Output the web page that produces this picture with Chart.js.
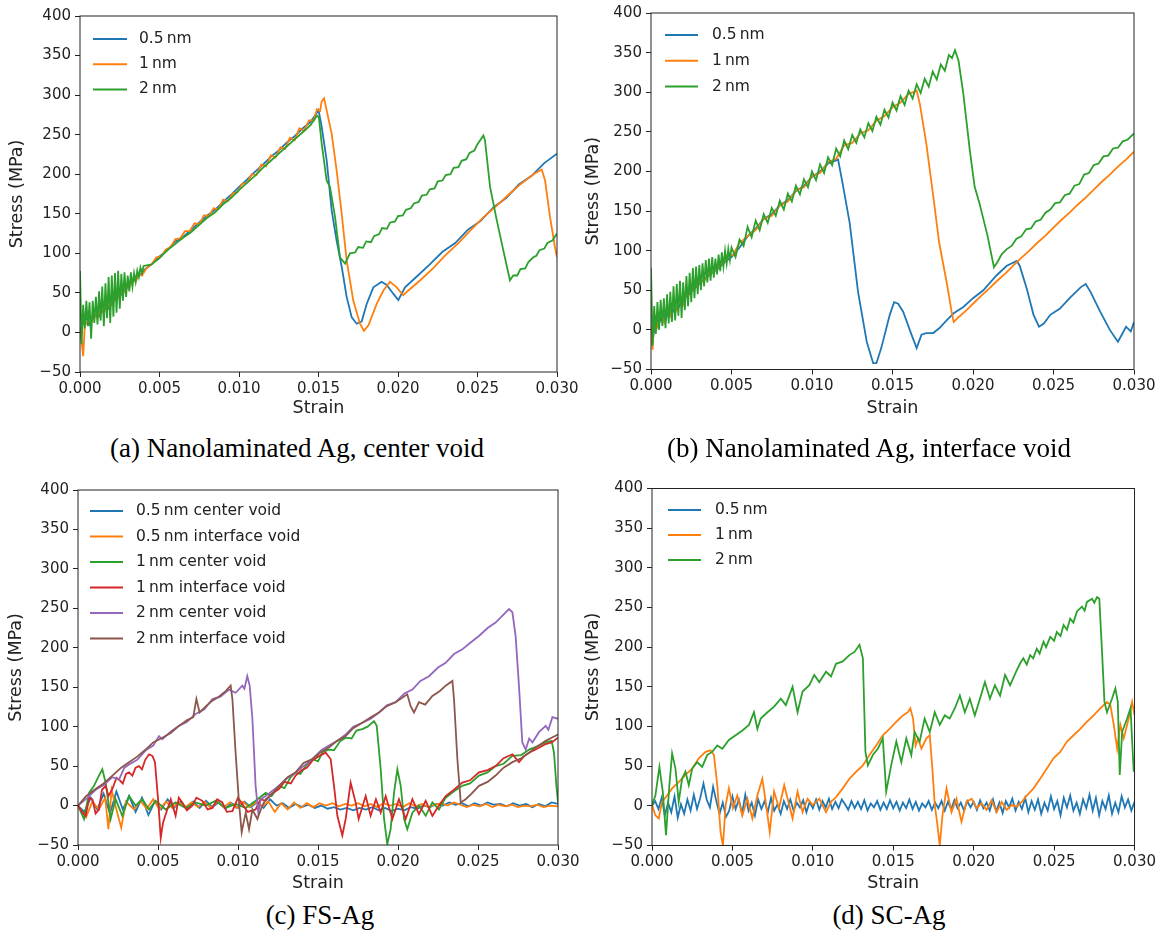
<!DOCTYPE html>
<html>
<head>
<meta charset="utf-8">
<script src="https://cdn.jsdelivr.net/npm/chart.js@4.4.1/dist/chart.umd.min.js"></script>
<style>
  body { margin: 0; background: #fff; width: 1159px; height: 932px; position: relative; overflow: hidden; }
  canvas { position: absolute; }
  .cap { position: absolute; font-family: "Liberation Serif", "Times New Roman", serif; font-size: 27px; color: #000;
         transform: translate(-50%, -50%); white-space: nowrap; }
</style>
</head>
<body>
<canvas id="pa" width="600" height="419" style="left:0;top:0"></canvas>
<canvas id="pb" width="579" height="419" style="left:580px;top:0"></canvas>
<canvas id="pc" width="600" height="424" style="left:0;top:470px"></canvas>
<canvas id="pd" width="579" height="424" style="left:580px;top:470px"></canvas>
<div class="cap" style="left:297px;top:448px">(a) Nanolaminated Ag, center void</div>
<div class="cap" style="left:869px;top:448px">(b) Nanolaminated Ag, interface void</div>
<div class="cap" style="left:320px;top:915px">(c) FS-Ag</div>
<div class="cap" style="left:889px;top:915px">(d) SC-Ag</div>
<script>
// series labels
const thinLabels = ['0.5\u2009nm', '1\u2009nm', '2\u2009nm'];
const fsLabels = ['0.5\u2009nm center void', '0.5\u2009nm interface void', '1\u2009nm center void',
  '1\u2009nm interface void', '2\u2009nm center void', '2\u2009nm interface void'];
const colors = ['#1f77b4', '#ff7f0e', '#2ca02c', '#d62728', '#9467bd', '#8c564b'];

// axis ticks
const strainTicks = [0, 0.005, 0.01, 0.015, 0.02, 0.025, 0.03];
const stressTicks = [-50, 0, 50, 100, 150, 200, 250, 300, 350, 400];

// (a) nanolaminated, center void  [strain, stress MPa]
const aBlue = [[0,0],[0.0002,12],[0.0004,18],[0.0006,10],[0.0008,20],[0.001,22],[0.0012,20],[0.0014,27],[0.0016,30],[0.0018,30],[0.002,38],[0.0023,44],[0.0026,48],[0.0029,55],[0.0032,62],[0.0035,68],[0.0038,73],[0.0041,80],[0.0045,86],[0.005,96],[0.0055,104],[0.006,115],[0.0065,121],[0.007,130],[0.0075,139],[0.008,148],[0.0085,155],[0.009,165],[0.0095,174],[0.01,184],[0.0105,193],[0.011,203],[0.0115,212],[0.012,222],[0.0125,230],[0.013,240],[0.0135,248],[0.014,258],[0.0145,266],[0.0148,275],[0.015,281],[0.0152,260],[0.01551,218],[0.01583,154],[0.01614,116],[0.01646,83],[0.01677,45],[0.01709,19],[0.0174,11],[0.01772,14],[0.01803,36],[0.01845,57],[0.01897,64],[0.01929,60],[0.0197,49],[0.02002,41],[0.02044,57],[0.0212,71],[0.022,86],[0.0228,102],[0.0236,113],[0.0244,130],[0.0252,141],[0.026,158],[0.0268,170],[0.0276,187],[0.0284,198],[0.0292,214],[0.03,226]];
const aOrange = [[0,5],[0.0001,-12],[0.0002,-30],[0.0003,8],[0.0005,15],[0.0007,12],[0.0009,22],[0.0011,18],[0.0013,28],[0.0015,25],[0.0017,35],[0.0019,32],[0.0021,42],[0.0023,40],[0.0025,50],[0.0027,48],[0.0029,58],[0.0031,57],[0.0033,66],[0.0035,64],[0.0037,74],[0.0039,72],[0.0042,82],[0.0045,86],[0.0048,95],[0.0051,96],[0.0054,105],[0.0057,108],[0.006,118],[0.0063,119],[0.0066,128],[0.0069,128],[0.0072,138],[0.0075,137],[0.0078,148],[0.0081,147],[0.0084,157],[0.0087,156],[0.009,168],[0.0093,166],[0.0096,176],[0.0099,177],[0.0102,188],[0.0105,189],[0.0108,200],[0.0111,199],[0.0114,212],[0.0117,210],[0.012,224],[0.0123,221],[0.0126,234],[0.0129,232],[0.0132,246],[0.0135,243],[0.0138,258],[0.0141,255],[0.0144,268],[0.0147,268],[0.0149,282],[0.0151,280],[0.0152,292],[0.01535,296],[0.01551,281],[0.01583,251],[0.01614,205],[0.01646,150],[0.01677,91],[0.01719,40],[0.01761,11],[0.01786,2],[0.01814,9],[0.01866,36],[0.01908,53],[0.0195,64],[0.01992,57],[0.02033,47],[0.02065,53],[0.0214,66],[0.0222,81],[0.023,98],[0.0238,113],[0.0246,130],[0.0254,146],[0.0262,160],[0.027,175],[0.0278,189],[0.0286,201],[0.02904,206],[0.02925,192],[0.02956,146],[0.02987,108],[0.03,95]];
const aGreen = [[0,78],[0.0001,-15],[0.0002,35],[0.0003,5],[0.0004,40],[0.0005,8],[0.0006,38],[0.0007,-8],[0.0008,40],[0.0009,12],[0.001,45],[0.0011,10],[0.0012,52],[0.0013,15],[0.0014,58],[0.0015,8],[0.0016,62],[0.0017,18],[0.0018,70],[0.0019,12],[0.002,72],[0.0021,20],[0.0022,75],[0.0023,25],[0.0024,78],[0.0025,30],[0.0026,74],[0.0027,40],[0.0028,76],[0.0029,45],[0.003,72],[0.0031,52],[0.0032,76],[0.0033,58],[0.0034,75],[0.0035,64],[0.0036,78],[0.0037,70],[0.0038,82],[0.0039,75],[0.004,84],[0.0045,86],[0.005,94],[0.0055,104],[0.006,112],[0.0065,120],[0.007,127],[0.0075,136],[0.008,145],[0.0085,152],[0.009,162],[0.0095,170],[0.01,180],[0.0105,189],[0.011,198],[0.0115,208],[0.012,217],[0.0125,226],[0.013,235],[0.0135,244],[0.014,253],[0.0145,262],[0.0149,274],[0.01502,272],[0.0152,239],[0.01551,192],[0.01572,184],[0.01604,146],[0.01635,95],[0.01667,87],[0.01698,100],[0.0173,101],[0.0175,108],[0.0178,107],[0.018,115],[0.0183,114],[0.0185,122],[0.0188,124],[0.019,132],[0.0193,131],[0.0195,139],[0.0198,140],[0.02,147],[0.0203,148],[0.0205,155],[0.0208,157],[0.021,163],[0.0213,165],[0.0215,173],[0.0218,174],[0.022,181],[0.0223,182],[0.0225,191],[0.0228,192],[0.023,199],[0.0233,200],[0.0235,208],[0.0238,209],[0.024,217],[0.0243,219],[0.0245,227],[0.0248,230],[0.025,238],[0.02537,249],[0.02547,243],[0.02579,184],[0.02621,142],[0.02662,104],[0.02704,66],[0.02725,72],[0.0275,72],[0.0277,80],[0.028,81],[0.0282,89],[0.02851,95],[0.0287,97],[0.0289,104],[0.0292,106],[0.0294,113],[0.0297,116],[0.03,125]];

// (b) nanolaminated, interface void
const bBlue = [[0,0],[0.0001,-15],[0.0003,15],[0.0005,8],[0.0007,20],[0.0009,12],[0.0011,25],[0.0013,20],[0.0015,30],[0.0017,28],[0.002,38],[0.0023,45],[0.0026,50],[0.003,58],[0.0034,65],[0.0038,72],[0.0042,78],[0.0046,86],[0.005,92],[0.0055,104],[0.006,118],[0.0065,128],[0.007,140],[0.0075,146],[0.008,157],[0.0085,164],[0.009,175],[0.0095,182],[0.01,193],[0.0105,200],[0.011,210],[0.01162,215],[0.0119,185],[0.01234,135],[0.01286,48],[0.0134,-15],[0.0138,-42],[0.014,-42],[0.0143,-23],[0.01483,19],[0.0151,35],[0.01535,33],[0.01566,23],[0.01618,-6],[0.0165,-23],[0.0168,-6],[0.0171,-4],[0.01753,-4],[0.0179,2],[0.01836,12],[0.0188,21],[0.0194,29],[0.02,40],[0.02064,50],[0.02147,69],[0.0221,81],[0.02272,87],[0.0229,81],[0.02334,52],[0.02376,19],[0.0241,4],[0.0244,8],[0.0248,19],[0.0254,27],[0.026,40],[0.0267,54],[0.027,58],[0.0273,48],[0.0279,23],[0.0285,0],[0.029,-15],[0.0293,-4],[0.0295,4],[0.0298,-2],[0.03,10]];
const bOrange = [[0,5],[0.0001,-25],[0.0002,20],[0.0004,5],[0.0006,25],[0.0008,10],[0.001,30],[0.0012,18],[0.0014,35],[0.0016,25],[0.0018,40],[0.002,32],[0.0022,45],[0.0024,45],[0.0026,52],[0.0028,55],[0.003,60],[0.0033,62],[0.0036,70],[0.0039,74],[0.0042,80],[0.0045,85],[0.0048,92],[0.0051,95],[0.0055,110],[0.006,118],[0.0065,126],[0.007,140],[0.0075,144],[0.008,157],[0.0085,162],[0.009,176],[0.0095,180],[0.01,194],[0.0105,198],[0.011,212],[0.0115,216],[0.012,233],[0.0125,236],[0.013,248],[0.0135,252],[0.014,264],[0.0145,270],[0.015,281],[0.0155,287],[0.016,298],[0.0163,300],[0.0165,302],[0.0167,285],[0.0171,235],[0.01753,169],[0.0179,110],[0.0184,56],[0.01867,23],[0.0188,10],[0.0191,16],[0.0196,25],[0.02,33],[0.0205,43],[0.021,52],[0.0215,62],[0.022,71],[0.0225,81],[0.023,91],[0.0235,100],[0.024,110],[0.0245,119],[0.025,129],[0.0255,139],[0.026,148],[0.0265,158],[0.027,167],[0.0275,177],[0.028,187],[0.0285,196],[0.029,206],[0.0295,215],[0.03,225]];
const bGreen = [[0,78],[0.0001,-20],[0.0002,30],[0.0003,-5],[0.0004,35],[0.0005,0],[0.0006,38],[0.0007,5],[0.0008,40],[0.0009,2],[0.001,45],[0.0011,8],[0.0012,48],[0.0013,10],[0.0014,55],[0.0015,12],[0.0016,58],[0.0017,18],[0.0018,62],[0.0019,15],[0.002,60],[0.0021,25],[0.0022,68],[0.0023,30],[0.0024,72],[0.0025,35],[0.0026,78],[0.0027,40],[0.0028,80],[0.0029,45],[0.003,82],[0.0031,50],[0.0032,84],[0.0033,55],[0.0034,88],[0.0035,60],[0.0036,90],[0.0037,62],[0.0038,92],[0.0039,66],[0.004,90],[0.0041,70],[0.0042,95],[0.0043,74],[0.0044,98],[0.0045,80],[0.0046,100],[0.0047,84],[0.0048,102],[0.0049,88],[0.005,104],[0.00525,92],[0.0055,114],[0.00575,106],[0.006,130],[0.00625,117],[0.0065,138],[0.00675,126],[0.007,146],[0.00725,135],[0.0075,154],[0.00775,144],[0.008,163],[0.00825,152],[0.0085,172],[0.00875,162],[0.009,182],[0.00925,171],[0.0095,190],[0.00975,180],[0.01,200],[0.01025,189],[0.0105,209],[0.01075,198],[0.011,218],[0.01125,208],[0.0115,229],[0.01175,219],[0.012,239],[0.01225,228],[0.0125,246],[0.01275,236],[0.013,253],[0.01325,243],[0.0135,261],[0.01375,251],[0.014,269],[0.01425,259],[0.0145,278],[0.01475,268],[0.015,287],[0.01525,277],[0.0155,295],[0.01575,284],[0.016,302],[0.01625,292],[0.0165,310],[0.01675,299],[0.017,317],[0.01725,307],[0.0175,326],[0.01775,316],[0.018,335],[0.01825,327],[0.0185,347],[0.0187,343],[0.01888,353],[0.0191,340],[0.0194,298],[0.0198,227],[0.0201,181],[0.0204,160],[0.0209,119],[0.0213,79],[0.0215,85],[0.0218,96],[0.0221,102],[0.0224,106],[0.0227,115],[0.023,118],[0.0233,127],[0.0236,128],[0.0239,137],[0.0242,139],[0.0245,148],[0.0248,152],[0.0251,160],[0.0254,161],[0.0257,170],[0.026,172],[0.0263,182],[0.0266,184],[0.0269,196],[0.0272,198],[0.0275,208],[0.0278,210],[0.0281,219],[0.0284,220],[0.0287,229],[0.029,230],[0.0293,238],[0.0296,240],[0.03,248]];

// (c) FS-Ag
const cBlue = [[0,0],[0.0004,-8],[0.0008,10],[0.0012,-5],[0.0016,15],[0.002,-10],[0.0024,18],[0.0028,-5],[0.0032,12],[0.0036,-8],[0.004,10],[0.0044,-12],[0.0048,5],[0.0052,-5],[0.0056,8],[0.006,-3],[0.0064,5],[0.0068,-4],[0.0072,5],[0.0076,-3],[0.008,6],[0.0084,-2],[0.0088,4],[0.0092,-4],[0.0096,3],[0.01,-3],[0.0104,5],[0.0108,-2],[0.0112,4],[0.0116,-3],[0.012,8],[0.0124,0],[0.0128,3],[0.0132,-3],[0.0136,2],[0.014,-2],[0.0144,1],[0.0148,-3],[0.0152,0],[0.0156,-4],[0.016,-2],[0.0164,-5],[0.0168,-3],[0.0172,-6],[0.0176,-3],[0.018,-5],[0.0184,-2],[0.0188,-6],[0.0192,-3],[0.0196,-7],[0.02,-4],[0.0204,-6],[0.0208,-2],[0.0212,-4],[0.0216,0],[0.022,-2],[0.0224,2],[0.0228,0],[0.0232,4],[0.0236,1],[0.024,3],[0.0244,-1],[0.0248,3],[0.0252,0],[0.0256,4],[0.026,1],[0.0264,2],[0.0268,-1],[0.0272,3],[0.0276,0],[0.028,2],[0.0284,-2],[0.0288,2],[0.0292,-1],[0.0296,4],[0.03,2]];
const cOrange = [[0,0],[0.0005,-15],[0.0009,5],[0.0013,-5],[0.0017,10],[0.0019,-30],[0.0021,20],[0.0024,-5],[0.0027,-28],[0.003,5],[0.0035,-5],[0.0039,6],[0.0043,-4],[0.0047,8],[0.0051,-5],[0.0055,5],[0.0059,-3],[0.0063,4],[0.0067,-2],[0.0071,4],[0.0075,-2],[0.0079,5],[0.0083,-3],[0.0087,5],[0.0091,-2],[0.0095,4],[0.0099,-3],[0.0103,5],[0.0107,-2],[0.0111,4],[0.0115,-1],[0.0119,5],[0.0123,-8],[0.0127,3],[0.0131,-5],[0.0135,4],[0.0139,-3],[0.0143,3],[0.0147,-2],[0.0151,3],[0.0155,0],[0.0159,3],[0.0163,-1],[0.0167,2],[0.0171,0],[0.0175,3],[0.0179,-1],[0.0183,2],[0.0187,-2],[0.0191,3],[0.0195,0],[0.0199,2],[0.0203,-2],[0.0207,3],[0.0211,-1],[0.0215,2],[0.0219,-2],[0.0223,1],[0.0227,3],[0.0231,0],[0.0235,4],[0.0239,1],[0.0243,-2],[0.0247,1],[0.0251,-1],[0.0255,2],[0.0259,-2],[0.0263,1],[0.0267,-1],[0.0271,1],[0.0275,-2],[0.0279,0],[0.0283,-1],[0.0287,1],[0.0291,-2],[0.0295,0],[0.03,-1]];
const cGreen = [[0,0],[0.000375,-17],[0.00069,16],[0.001,25],[0.00131,38],[0.00152,46],[0.00173,29],[0.00204,-17],[0.00235,8],[0.00277,-13],[0.00319,12],[0.0036,0],[0.00402,8],[0.00444,-5],[0.00485,6],[0.00548,-5],[0.0061,4],[0.00673,-3],[0.00735,4],[0.00798,0],[0.0086,6],[0.00923,-3],[0.00985,2],[0.01048,-3],[0.0111,6],[0.01173,16],[0.0121,12],[0.01256,25],[0.0129,22],[0.0133,36],[0.0136,42],[0.0139,40],[0.0143,52],[0.01465,59],[0.015,56],[0.0153,68],[0.01569,71],[0.016,70],[0.0164,82],[0.01673,86],[0.0171,85],[0.0174,95],[0.01777,97],[0.0181,100],[0.0185,107],[0.01867,101],[0.01892,46],[0.01913,-17],[0.01933,-49],[0.01954,-30],[0.01975,16],[0.01996,46],[0.02017,25],[0.02038,-17],[0.02058,-30],[0.0209,-9],[0.02131,0],[0.02173,-13],[0.02215,4],[0.02256,-5],[0.02298,10],[0.0235,18],[0.02402,25],[0.0245,28],[0.02506,38],[0.0256,42],[0.0261,50],[0.0266,53],[0.02715,63],[0.0277,64],[0.02819,71],[0.0287,75],[0.02923,80],[0.0296,82],[0.02975,67],[0.0299,25],[0.03,4]];
const cRed = [[0,0],[0.00025,-8],[0.00048,-13],[0.0007,10],[0.0009,8],[0.0011,-10],[0.00131,-5],[0.0015,20],[0.00173,25],[0.0019,12],[0.00215,21],[0.0024,35],[0.00256,33],[0.0028,28],[0.003,40],[0.00319,42],[0.0034,38],[0.0036,48],[0.00381,50],[0.004,46],[0.0042,58],[0.00444,65],[0.00465,63],[0.00481,55],[0.00502,4],[0.00517,-41],[0.00531,-22],[0.00558,-5],[0.0058,8],[0.0061,-13],[0.0063,10],[0.00652,4],[0.0068,-6],[0.00715,0],[0.0074,10],[0.00777,6],[0.0081,-5],[0.0084,-3],[0.0087,8],[0.00902,4],[0.0093,-8],[0.00965,-7],[0.01,10],[0.01027,2],[0.0106,-8],[0.0111,-5],[0.0114,8],[0.01173,6],[0.0121,15],[0.01256,21],[0.0129,30],[0.0133,28],[0.0136,38],[0.014,45],[0.0143,48],[0.01465,57],[0.015,62],[0.01548,67],[0.01579,59],[0.016,25],[0.01621,-13],[0.01652,-38],[0.01673,-17],[0.01704,29],[0.01735,4],[0.01754,-17],[0.01798,12],[0.01829,-13],[0.01862,8],[0.01892,-9],[0.01923,12],[0.01965,-17],[0.02006,8],[0.02048,-17],[0.0209,8],[0.02131,-11],[0.02173,6],[0.02215,-13],[0.02256,0],[0.02298,12],[0.0235,20],[0.02402,29],[0.0245,32],[0.02506,42],[0.0256,45],[0.0261,50],[0.0266,60],[0.02715,65],[0.02756,55],[0.0279,63],[0.02819,67],[0.0287,72],[0.02923,78],[0.0296,80],[0.03,86]];
const cPurple = [[0,0],[0.0006,10],[0.0011,20],[0.0016,26],[0.00215,36],[0.00256,33],[0.0029,48],[0.00319,52],[0.0037,58],[0.00423,70],[0.0047,76],[0.00506,88],[0.00527,84],[0.0058,94],[0.00631,101],[0.0068,106],[0.00735,116],[0.0079,122],[0.0084,135],[0.0089,138],[0.00944,147],[0.00985,143],[0.01027,152],[0.0104,148],[0.01058,164],[0.01073,152],[0.0109,110],[0.0111,25],[0.01127,-9],[0.01142,8],[0.01173,12],[0.0121,18],[0.01256,25],[0.0131,35],[0.0136,42],[0.0141,50],[0.01465,59],[0.0152,70],[0.01569,76],[0.0162,82],[0.01673,90],[0.0172,100],[0.01777,105],[0.0183,110],[0.01881,118],[0.0193,127],[0.01985,131],[0.0204,142],[0.0209,147],[0.0214,158],[0.02194,164],[0.0225,175],[0.02298,181],[0.0235,192],[0.02402,198],[0.0245,206],[0.02506,215],[0.0256,225],[0.0261,232],[0.0265,240],[0.02694,249],[0.02715,245],[0.02735,215],[0.02756,152],[0.02777,80],[0.02798,71],[0.0282,85],[0.0284,80],[0.02881,93],[0.02923,101],[0.0294,96],[0.02965,112],[0.03,110]];
const cBrown = [[0,0],[0.0005,12],[0.0011,21],[0.0016,28],[0.00215,38],[0.0027,48],[0.00319,55],[0.0037,62],[0.00423,71],[0.0047,80],[0.00527,86],[0.0058,92],[0.00631,101],[0.0068,108],[0.0072,112],[0.0074,135],[0.0076,118],[0.008,126],[0.0084,133],[0.0088,138],[0.00923,145],[0.00954,152],[0.00965,135],[0.00985,67],[0.01006,4],[0.01023,-34],[0.01048,-9],[0.01069,-30],[0.0109,-5],[0.01121,-17],[0.01152,0],[0.01173,8],[0.0121,14],[0.01256,25],[0.0131,36],[0.0136,42],[0.0141,54],[0.01465,59],[0.0152,68],[0.01569,74],[0.0162,82],[0.01673,88],[0.0172,98],[0.01777,105],[0.0183,112],[0.01881,118],[0.0193,126],[0.01985,131],[0.02058,141],[0.02079,126],[0.021,118],[0.02131,131],[0.0217,128],[0.02215,139],[0.0226,145],[0.02298,152],[0.0234,158],[0.0235,135],[0.02371,59],[0.02392,4],[0.02423,8],[0.0246,15],[0.02506,25],[0.0256,30],[0.0261,38],[0.0266,48],[0.02715,55],[0.0277,60],[0.02819,67],[0.0287,75],[0.02923,82],[0.0296,86],[0.03,90]];

// (d) SC-Ag
const dBlue = [[0,0],[0.0002,6],[0.0004,-4],[0.0006,10],[0.0008,-12],[0.001,4],[0.0012,-8],[0.0014,12],[0.0016,-15],[0.0018,2],[0.002,-10],[0.0022,8],[0.0024,-6],[0.0026,14],[0.0028,-4],[0.003,10],[0.0032,28],[0.0034,8],[0.0036,-2],[0.0038,24],[0.004,6],[0.0042,-10],[0.0044,4],[0.0046,-14],[0.0048,-6],[0.005,12],[0.0052,-4],[0.0054,8],[0.0056,-10],[0.0058,14],[0.006,-6],[0.0062,4],[0.0064,-12],[0.0066,8],[0.0068,-4],[0.007,6],[0.0072,-8],[0.0074,10],[0.0076,-6],[0.0078,2],[0.008,-10],[0.0082,6],[0.0084,-4],[0.0086,8],[0.0088,-6],[0.009,4],[0.0092,-2],[0.0094,7],[0.0096,-8],[0.0098,5],[0.01,-3],[0.0102,8],[0.0104,-5],[0.0106,6],[0.0108,-2],[0.011,9],[0.0112,-4],[0.0114,5],[0.0116,-3],[0.0118,8],[0.012,2],[0.0122,-5],[0.0124,6],[0.0126,-3],[0.0128,5],[0.013,-4],[0.0132,7],[0.0134,-6],[0.0136,3],[0.0138,-2],[0.014,6],[0.0142,-5],[0.0144,4],[0.0146,-4],[0.0148,7],[0.015,-3],[0.0152,5],[0.0154,-6],[0.0156,4],[0.0158,-3],[0.016,8],[0.0162,-4],[0.0164,5],[0.0166,-6],[0.0168,3],[0.017,-2],[0.0172,6],[0.0174,-5],[0.0176,4],[0.0178,-3],[0.018,6],[0.0182,-6],[0.0184,5],[0.0186,-4],[0.0188,7],[0.019,-3],[0.0192,4],[0.0194,-6],[0.0196,6],[0.0198,-2],[0.02,5],[0.0202,-5],[0.0204,7],[0.0206,-3],[0.0208,4],[0.021,-6],[0.0212,8],[0.0214,-7],[0.0216,4],[0.0218,-9],[0.022,6],[0.0222,-2],[0.0224,9],[0.0226,-6],[0.0228,5],[0.023,-4],[0.0232,10],[0.0234,-8],[0.0236,6],[0.0238,-5],[0.024,8],[0.0242,-10],[0.0244,4],[0.0246,-6],[0.0248,12],[0.025,-4],[0.0252,6],[0.0254,-12],[0.0256,10],[0.0258,-2],[0.026,13],[0.0262,-6],[0.0264,4],[0.0266,-10],[0.0268,8],[0.027,-3],[0.0272,14],[0.0274,-6],[0.0276,10],[0.0278,-12],[0.028,6],[0.0282,-4],[0.0284,13],[0.0286,-10],[0.0288,4],[0.029,-8],[0.0292,12],[0.0294,-2],[0.0296,8],[0.0298,-6],[0.03,5]];
const dOrange = [[0,1],[0.00021,-12],[0.00042,-16],[0.00062,5],[0.00094,13],[0.00125,22],[0.00166,30],[0.00208,39],[0.0025,47],[0.00291,60],[0.00333,68],[0.00364,70],[0.00385,64],[0.00406,26],[0.00426,-33],[0.00441,-50],[0.00458,1],[0.00478,22],[0.00503,-3],[0.0053,13],[0.00562,-12],[0.00593,9],[0.00624,-16],[0.00655,13],[0.00686,34],[0.00707,5],[0.00732,-33],[0.00759,18],[0.0079,-3],[0.00822,26],[0.00853,1],[0.00874,-16],[0.00905,18],[0.00936,-8],[0.00967,9],[0.00999,1],[0.0104,9],[0.01082,-8],[0.01113,5],[0.01144,11],[0.01186,22],[0.01227,34],[0.01269,43],[0.01311,51],[0.01352,64],[0.01394,76],[0.01435,89],[0.01477,97],[0.01519,106],[0.0156,114],[0.01591,118],[0.01606,123],[0.01623,110],[0.01639,76],[0.01654,85],[0.01675,72],[0.01706,85],[0.01727,89],[0.01743,47],[0.01758,1],[0.01772,-20],[0.01789,-50],[0.01806,-12],[0.01831,22],[0.01862,-8],[0.01893,9],[0.01924,-20],[0.01955,5],[0.01987,9],[0.02018,-3],[0.02049,3],[0.0208,-5],[0.02111,7],[0.02143,-8],[0.02174,5],[0.02205,-5],[0.02236,1],[0.02268,-1],[0.02299,5],[0.0233,13],[0.02372,22],[0.02413,34],[0.02455,47],[0.02496,60],[0.02538,68],[0.0258,81],[0.02621,89],[0.02663,97],[0.02704,106],[0.02746,114],[0.02788,123],[0.02829,131],[0.0285,127],[0.02871,102],[0.02892,72],[0.02912,102],[0.02933,85],[0.02964,110],[0.02985,131],[0.03,114]];
const dGreen = [[0,1],[0.00021,13],[0.00046,49],[0.00067,18],[0.00087,-37],[0.00108,26],[0.00125,66],[0.00146,47],[0.00166,5],[0.00187,34],[0.00208,43],[0.00229,26],[0.0025,47],[0.00281,55],[0.00312,49],[0.00343,64],[0.00374,68],[0.00406,76],[0.00437,72],[0.00478,83],[0.0052,89],[0.00562,95],[0.00603,102],[0.00634,118],[0.00655,97],[0.00676,110],[0.00718,118],[0.00759,125],[0.00801,135],[0.00832,127],[0.00874,150],[0.00905,118],[0.00936,144],[0.00978,152],[0.01009,165],[0.0104,156],[0.01082,169],[0.01113,163],[0.01144,179],[0.01186,182],[0.01227,190],[0.01259,194],[0.0129,203],[0.01311,186],[0.01327,68],[0.01342,51],[0.01373,64],[0.01404,72],[0.01435,85],[0.01456,18],[0.01487,51],[0.01519,81],[0.0155,55],[0.01581,85],[0.01612,64],[0.01633,93],[0.01664,81],[0.01695,110],[0.01727,93],[0.01758,118],[0.01789,102],[0.0182,114],[0.01851,110],[0.01883,123],[0.01914,139],[0.01945,118],[0.01976,135],[0.02007,114],[0.02039,135],[0.0207,156],[0.02101,135],[0.02132,152],[0.02164,139],[0.02195,165],[0.02226,152],[0.02268,171],[0.0229,180],[0.02309,186],[0.0233,178],[0.02351,190],[0.0237,186],[0.02392,198],[0.0241,192],[0.02434,207],[0.0245,200],[0.02476,213],[0.025,208],[0.02517,219],[0.0254,214],[0.02559,228],[0.0258,222],[0.026,236],[0.0262,231],[0.02642,245],[0.02673,251],[0.0269,246],[0.02704,257],[0.02736,261],[0.0275,256],[0.02767,263],[0.02781,261],[0.02798,194],[0.02813,131],[0.02829,118],[0.0286,135],[0.02881,148],[0.02896,131],[0.02908,39],[0.02923,93],[0.02954,110],[0.02975,123],[0.02995,43],[0.03,50]];

Chart.defaults.font.family = '"DejaVu Sans", sans-serif';
Chart.defaults.color = '#222';

const ink = '#222';

// full box round the plot area, like matplotlib spines
const frame = {
  id: 'frame',
  afterDraw(chart) {
    const { ctx, chartArea: a } = chart;
    ctx.save();
    ctx.strokeStyle = ink;
    ctx.lineWidth = 1;
    ctx.strokeRect(a.left, a.top, a.right - a.left, a.bottom - a.top);
    ctx.restore();
  },
};

// legend drawn inside the axes, top left, no box
const innerLegend = {
  id: 'innerLegend',
  afterDatasetsDraw(chart, args, opts) {
    const { ctx, chartArea: a } = chart;
    ctx.save();
    ctx.font = '15.5px "DejaVu Sans"';
    ctx.textBaseline = 'middle';
    ctx.lineWidth = 2;
    chart.data.datasets.forEach((ds, i) => {
      const y = a.top + opts.top + i * opts.gap;
      ctx.strokeStyle = ds.borderColor;
      ctx.beginPath();
      ctx.moveTo(a.left + opts.x0, y);
      ctx.lineTo(a.left + opts.x1, y);
      ctx.stroke();
      ctx.fillStyle = ink;
      ctx.fillText(ds.label, a.left + opts.tx, y);
    });
    ctx.restore();
  },
};

function makePanel(id, labels, series, box, legend) {
  const n = series.length;
  const datasets = series.map((s, i) => ({
    label: labels[i],
    data: s.map(([x, y]) => ({ x, y })),
    borderColor: colors[i],
    borderWidth: 1.8,
    pointRadius: 0,
    tension: 0,
    fill: false,
    order: n - 1 - i,
  }));

  return new Chart(document.getElementById(id), {
    type: 'line',
    data: { datasets },
    plugins: [frame, innerLegend],
    options: {
      responsive: false,
      animation: false,
      devicePixelRatio: 1,
      layout: { padding: box.pad },
      plugins: {
        legend: { display: false },
        tooltip: { enabled: false },
        innerLegend: legend,
      },
      scales: {
        x: {
          type: 'linear',
          min: 0,
          max: 0.03,
          afterBuildTicks: (scale) => { scale.ticks = strainTicks.map((v) => ({ value: v })); },
          afterFit: (scale) => { scale.height = box.xH; },
          border: { display: false },
          grid: { drawOnChartArea: false, drawTicks: true, tickLength: 5, color: ink },
          ticks: { padding: 3, font: { size: 15 }, color: ink, maxRotation: 0, callback: (v) => Number(v).toFixed(3) },
          title: { display: true, text: 'Strain', font: { size: 17.5 }, color: ink, padding: 0 },
        },
        y: {
          min: -50,
          max: 400,
          afterBuildTicks: (scale) => { scale.ticks = stressTicks.map((v) => ({ value: v })); },
          afterFit: (scale) => { scale.width = box.yW; },
          border: { display: false },
          grid: { drawOnChartArea: false, drawTicks: true, tickLength: 5, color: ink },
          ticks: { padding: 4, font: { size: 15 }, color: ink, callback: (v) => (v < 0 ? '\u2212' + Math.abs(v) : String(v)) },
          title: { display: true, text: 'Stress (MPa)', font: { size: 17.5 }, color: ink, padding: 0 },
        },
      },
    },
  });
}

makePanel('pa', thinLabels, [aBlue, aOrange, aGreen],
  { pad: { left: 7, top: 16, right: 43, bottom: 0 }, yW: 73, xH: 47 },
  { x0: 13, x1: 47, tx: 59, top: 23, gap: 25.2 });

makePanel('pb', thinLabels, [bBlue, bOrange, bGreen],
  { pad: { left: 2.5, top: 13, right: 25, bottom: 0 }, yW: 68.5, xH: 49.5 },
  { x0: 14, x1: 47, tx: 61, top: 22, gap: 25.8 });

makePanel('pc', fsLabels, [cBlue, cOrange, cGreen, cRed, cPurple, cBrown],
  { pad: { left: 6, top: 20, right: 42, bottom: 0 }, yW: 72, xH: 49 },
  { x0: 12, x1: 45, tx: 58, top: 21, gap: 25.5 });

makePanel('pd', thinLabels, [dBlue, dOrange, dGreen],
  { pad: { left: 2.5, top: 18.5, right: 24, bottom: 0 }, yW: 69.5, xH: 48.5 },
  { x0: 16, x1: 49, tx: 63, top: 21.5, gap: 25 });
</script>
</body>
</html>
